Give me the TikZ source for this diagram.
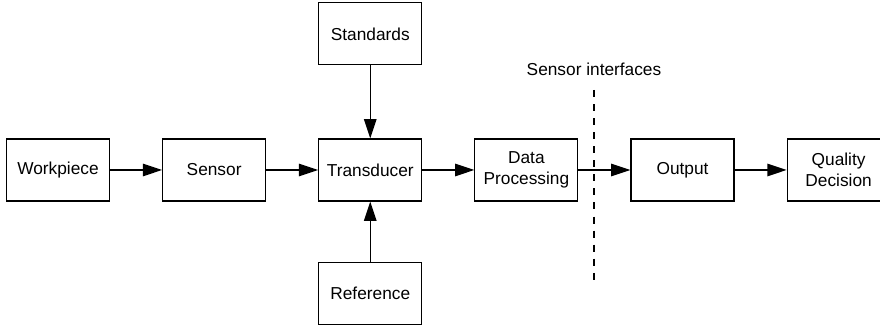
\documentclass[tikz,border=0pt]{standalone}
\usepackage{fontspec}
\setmainfont{Liberation Sans}
\usetikzlibrary{arrows.meta,positioning}

\tikzset{
  block/.style={rectangle,draw,line width=0.8pt,minimum width=2.575cm,minimum height=1.55cm,
    align=center,font=\fontsize{12.3}{14.5}\selectfont,inner sep=1pt},
  flow/.style={line width=1pt,-{Triangle[length=0.48cm,width=0.31cm]}}
}

\begin{document}
\begin{tikzpicture}[node distance=1.3cm]
\useasboundingbox (0,0) rectangle (22,8.15);

% Main chain
\node[block] (work) at (1.45,3.9) {Workpiece};
\node[block,right=of work] (sensor) {Sensor};
\node[block,right=of sensor] (trans) {Transducer};
\node[block,right=of trans] (proc) {Data\\Processing};
\node[block,right=of proc] (out) {Output};
\node[block,right=of out] (qual) {Quality\\Decision};

% Inputs to the transducer
\node[block,above=1.825cm of trans] (std) {Standards};
\node[block,below=1.5cm of trans] (ref) {Reference};

% Arrows
\draw[flow] (work) -- (sensor);
\draw[flow] (sensor) -- (trans);
\draw[flow] (trans) -- (proc);
\draw[flow] (proc) -- (out);
\draw[flow] (out) -- (qual);
\draw[flow] (std) -- (trans);
\draw[flow] (ref) -- (trans);

% Interface line
\coordinate (cuttop) at (14.85,5.9);
\coordinate (cutbot) at (14.85,1.075);
\draw[line width=1.1pt,dash pattern=on 5pt off 5pt] (cuttop) -- (cutbot);
\node[font=\fontsize{12.3}{14.5}\selectfont] (cutlabel) at (14.85,6.425) {Sensor interfaces};
\end{tikzpicture}
\end{document}
